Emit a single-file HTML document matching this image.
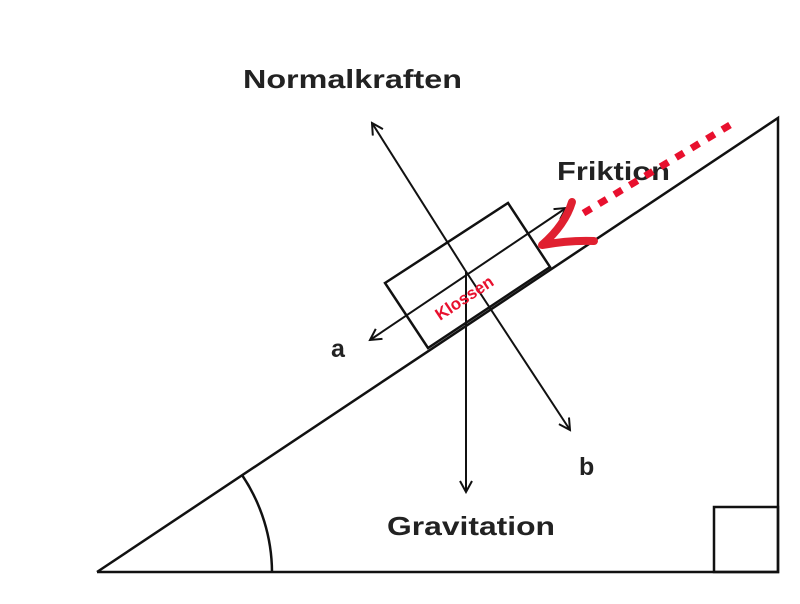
<!DOCTYPE html>
<html><head><style>
body{margin:0;background:#fff;}
svg text{font-family:"Liberation Sans",sans-serif;font-weight:bold;}
</style></head><body>
<svg width="800" height="599" viewBox="0 0 800 599" xmlns="http://www.w3.org/2000/svg">
<defs>
<marker id="ah" markerWidth="14" markerHeight="14" refX="12" refY="7" orient="auto" markerUnits="userSpaceOnUse">
<path d="M1,1 L12,7 L1,13" fill="none" stroke="#111" stroke-width="2"/>
</marker>
</defs>
<g stroke="#111" stroke-width="2.5" fill="none">
<polyline points="97,572 778,118 778,572 97,572"/>
<rect x="714" y="507" width="64" height="65"/>
<path d="M272,572 A175,175 0 0 0 242,475"/>
<polygon points="385,283 508,203 550,267 428,348"/>
</g>
<g stroke="#111" stroke-width="2" fill="none">
<line x1="563" y1="210" x2="370" y2="340" marker-end="url(#ah)"/>
<line x1="563" y1="210" x2="566" y2="208" marker-end="url(#ah)"/>
<line x1="465" y1="270" x2="372" y2="123" marker-end="url(#ah)"/>
<line x1="465" y1="270" x2="570" y2="430" marker-end="url(#ah)"/>
<line x1="466" y1="272" x2="466" y2="492" marker-end="url(#ah)"/>
</g>
<text x="243" y="88" font-size="26" textLength="219" lengthAdjust="spacingAndGlyphs" fill="#222">Normalkraften</text>
<text x="557" y="180" font-size="26" textLength="113" lengthAdjust="spacingAndGlyphs" fill="#222">Friktion</text>
<text x="331" y="357" font-size="25" fill="#222">a</text>
<text x="579" y="475" font-size="25" fill="#222">b</text>
<text x="387" y="535" font-size="26" textLength="168" lengthAdjust="spacingAndGlyphs" fill="#222">Gravitation</text>
<line x1="730" y1="125" x2="582" y2="214" stroke="#e8102e" stroke-width="7" stroke-dasharray="9,9"/>
<path d="M572,202 Q565,225 542,245 Q570,240 594,241" stroke="#e02030" stroke-width="8" fill="none" stroke-linecap="round" stroke-linejoin="round"/>
<text x="0" y="0" font-size="17" fill="#e8102e" transform="translate(440,321) rotate(-33.7)">Klossen</text>
</svg>
</body></html>
